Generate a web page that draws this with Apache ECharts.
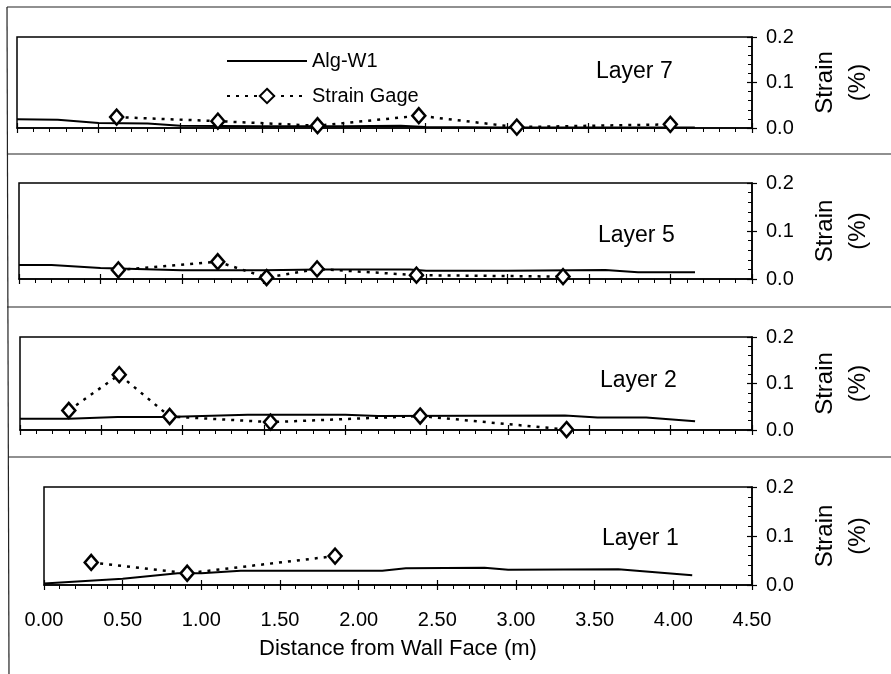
<!DOCTYPE html>
<html><head><meta charset="utf-8">
<script src="https://cdn.jsdelivr.net/npm/echarts@6/dist/echarts.min.js"></script>
<style>html,body{margin:0;padding:0;background:#fff}#c{width:891px;height:674px}</style>
</head><body><div id="c"></div>
<script>
// ---- data ----
const layerNames = ['Layer 7', 'Layer 5', 'Layer 2', 'Layer 1'];
const seriesNames = ['Alg-W1', 'Strain Gage'];
const xAxisTitle = 'Distance from Wall Face (m)';
const yAxisTitle = 'Strain\n(%)';

// Alg-W1 (solid line)
const algX7 = [0, 0.25, 0.5, 0.8, 1.0, 1.5, 2.0, 2.35, 2.5, 3.0, 3.5, 4.15];
const algY7 = [0.019, 0.018, 0.011, 0.010, 0.005, 0.004, 0.004, 0.005, 0.002, 0.001, 0.001, 0.001];
const algX5 = [0, 0.2, 0.5, 1.0, 1.5, 1.85, 2.4, 2.5, 3.0, 3.6, 3.8, 4.15];
const algY5 = [0.029, 0.029, 0.023, 0.018, 0.018, 0.020, 0.020, 0.017, 0.017, 0.019, 0.014, 0.014];
const algX2 = [0, 0.3, 0.6, 0.9, 1.4, 2.0, 2.2, 3.35, 3.55, 3.85, 4.15];
const algY2 = [0.024, 0.024, 0.028, 0.028, 0.033, 0.033, 0.030, 0.031, 0.027, 0.027, 0.019];
const algX1 = [0, 0.5, 0.85, 1.0, 1.25, 2.15, 2.3, 2.8, 2.95, 3.65, 4.12];
const algY1 = [0.003, 0.013, 0.024, 0.024, 0.029, 0.029, 0.034, 0.035, 0.031, 0.032, 0.020];

// Strain Gage (dotted line with diamonds)
const gageX7 = [0.61, 1.23, 1.84, 2.46, 3.06, 4.0];
const gageY7 = [0.024, 0.015, 0.005, 0.027, 0.002, 0.008];
const gageX5 = [0.61, 1.22, 1.52, 1.83, 2.44, 3.34];
const gageY5 = [0.019, 0.036, 0.003, 0.021, 0.008, 0.005];
const gageX2 = [0.3, 0.61, 0.92, 1.54, 2.46, 3.36];
const gageY2 = [0.042, 0.119, 0.029, 0.017, 0.030, 0.001];
const gageX1 = [0.3, 0.91, 1.85];
const gageY1 = [0.046, 0.024, 0.059];

const algXs = [algX7, algX5, algX2, algX1];
const algYs = [algY7, algY5, algY2, algY1];
const gageXs = [gageX7, gageX5, gageX2, gageX1];
const gageYs = [gageY7, gageY5, gageY2, gageY1];

// ---- layout ----
const FONT = "'Liberation Sans', Arial, sans-serif";
const grids = [
  {left: 17, top: 37, width: 735, height: 91},
  {left: 19, top: 183, width: 733, height: 96},
  {left: 20, top: 337, width: 732, height: 93},
  {left: 44, top: 487, width: 708, height: 98}
];
const titlePos = [[591, 55], [593, 219], [595, 364], [597, 522]];

const zip = (xs, ys) => xs.map((x, i) => [x, ys[i]]);

const xAxes = [], yAxes = [], series = [], titles = [];
grids.forEach((g, i) => {
  const last = i === grids.length - 1;
  xAxes.push({
    type: 'value', gridIndex: i, position: 'bottom', min: 0, max: 4.5, interval: 0.5,
    axisLine: {show: true, onZero: false, lineStyle: {color: '#000', width: 1.5}},
    axisTick: {show: true, inside: false, length: 5, lineStyle: {color: '#000', width: 1.2}},
    minorTick: {show: true, splitNumber: 5, length: 4, lineStyle: {color: '#000', width: 1}},
    splitLine: {show: false}, minorSplitLine: {show: false},
    axisLabel: {show: last, color: '#000', fontSize: 20, fontFamily: FONT, margin: 25,
      formatter: v => v.toFixed(2)},
    name: last ? xAxisTitle : '', nameLocation: 'middle', nameGap: 53,
    nameTextStyle: {color: '#000', fontSize: 22, fontFamily: FONT}
  });
  xAxes.push({
    type: 'value', gridIndex: i, position: 'bottom', min: 0, max: 4.5, interval: 0.5,
    axisLine: {show: false, onZero: false},
    axisTick: {show: true, inside: true, length: 5, lineStyle: {color: '#000', width: 1.2}},
    minorTick: {show: false}, splitLine: {show: false}, axisLabel: {show: false}
  });
  yAxes.push({
    type: 'value', gridIndex: i, position: 'right', min: 0, max: 0.2, interval: 0.1,
    axisLine: {show: true, onZero: false, lineStyle: {color: '#000', width: 1.5}},
    axisTick: {show: true, inside: true, length: 5, lineStyle: {color: '#000', width: 1.2}},
    minorTick: {show: true, splitNumber: 5, length: 4, lineStyle: {color: '#000', width: 1}},
    splitLine: {show: false}, minorSplitLine: {show: false},
    axisLabel: {color: '#000', fontSize: 20, fontFamily: FONT, margin: 14,
      formatter: v => v.toFixed(1)},
    name: yAxisTitle, nameLocation: 'middle', nameRotate: 90, nameGap: 57,
    nameTextStyle: {color: '#000', fontSize: 24, fontFamily: FONT, lineHeight: 33}
  });
  yAxes.push({
    type: 'value', gridIndex: i, position: 'right', min: 0, max: 0.2, interval: 0.1,
    axisLine: {show: false, onZero: false},
    axisTick: {show: true, inside: false, length: 5, lineStyle: {color: '#000', width: 1.2}},
    minorTick: {show: false}, splitLine: {show: false}, axisLabel: {show: false}
  });
  series.push({
    name: seriesNames[0], type: 'line', xAxisIndex: 2 * i, yAxisIndex: 2 * i,
    data: zip(algXs[i], algYs[i]), symbol: 'none', smooth: false,
    lineStyle: {color: '#000', width: 2}, itemStyle: {color: '#000'}, z: 3
  });
  series.push({
    name: seriesNames[1], type: 'line', xAxisIndex: 2 * i, yAxisIndex: 2 * i,
    data: zip(gageXs[i], gageYs[i]), symbol: 'diamond', symbolSize: [13, 15],
    lineStyle: {color: '#000', width: 2.5, type: [3, 6]},
    itemStyle: {color: '#fff', borderColor: '#000', borderWidth: 2.5}, z: 4
  });
  titles.push({
    text: layerNames[i], left: titlePos[i][0], top: titlePos[i][1],
    textStyle: {color: '#000', fontSize: 23, fontWeight: 'normal', fontFamily: FONT}
  });
});

const frameStyle = {stroke: '#222', lineWidth: 1.2};
const option = {
  animation: false,
  backgroundColor: '#fff',
  title: titles,
  grid: grids.map(g => Object.assign({show: true, borderColor: '#000', borderWidth: 1.5,
    backgroundColor: 'transparent'}, g)),
  xAxis: xAxes,
  yAxis: yAxes,
  legend: {
    data: [{name: seriesNames[0], itemStyle: {opacity: 0}}, {name: seriesNames[1]}],
    orient: 'vertical', left: 226, top: 51, padding: 0,
    itemWidth: 80, itemHeight: 18, itemGap: 15,
    textStyle: {color: '#000', fontSize: 20, fontFamily: FONT}
  },
  graphic: [
    {type: 'line', shape: {x1: 7, y1: 7, x2: 891, y2: 7}, style: frameStyle, silent: true},
    {type: 'line', shape: {x1: 7, y1: 154, x2: 891, y2: 154}, style: frameStyle, silent: true},
    {type: 'line', shape: {x1: 7, y1: 307, x2: 891, y2: 307}, style: frameStyle, silent: true},
    {type: 'line', shape: {x1: 8, y1: 457, x2: 891, y2: 457}, style: frameStyle, silent: true},
    {type: 'line', shape: {x1: 7, y1: 7, x2: 9, y2: 674}, style: frameStyle, silent: true}
  ],
  series: series
};
const chart = echarts.init(document.getElementById('c'), null, {renderer: 'canvas'});
chart.setOption(option);
</script></body></html>
